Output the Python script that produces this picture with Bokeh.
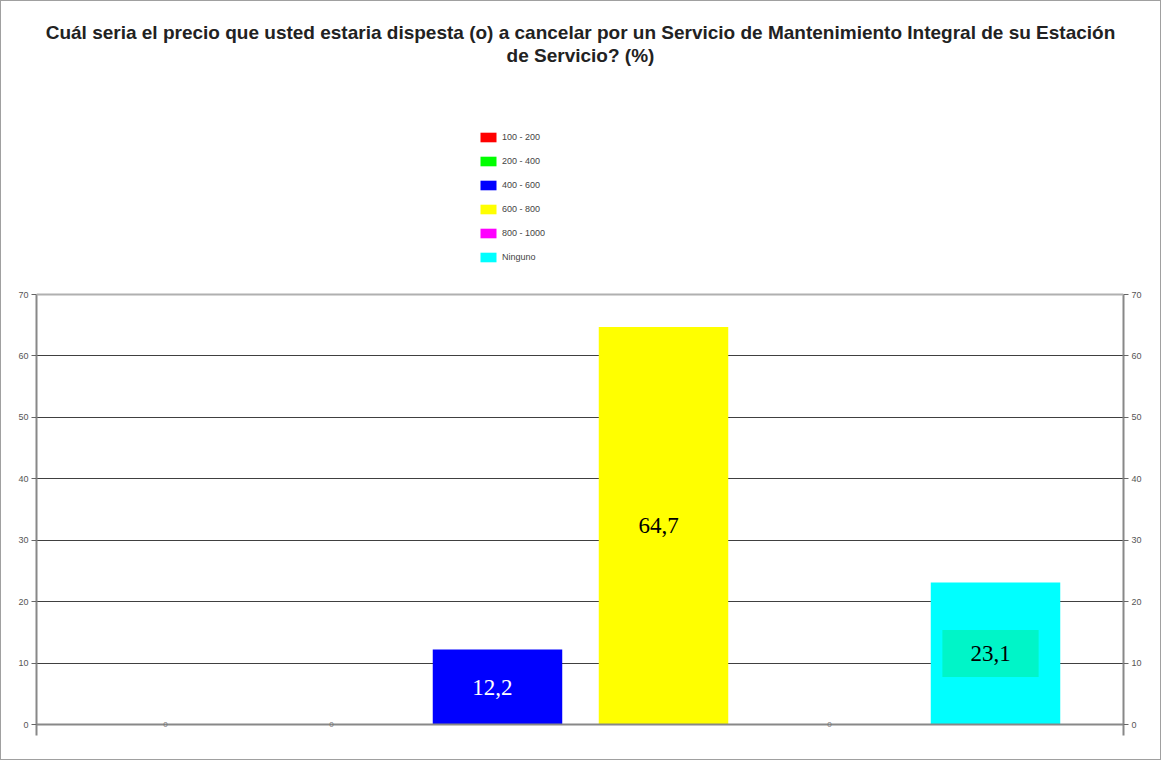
from bokeh.plotting import figure
from bokeh.models import (Range1d, LinearAxis, FixedTicker, Span, Label,
                          ColumnDataSource, Legend, LegendItem)
from bokeh.embed import file_html
from bokeh.resources import INLINE

# ---- data ----
categories = ["100 - 200", "200 - 400", "400 - 600", "600 - 800", "800 - 1000", "Ninguno"]
values = [0, 0, 12.2, 64.7, 0, 23.1]
value_labels = ["0", "0", "12,2", "64,7", "0", "23,1"]
colors = ["#ff0000", "#00ff00", "#0000ff", "#ffff00", "#ff00ff", "#00ffff"]
label_colors = ["#777777", "#777777", "white", "black", "#777777", "black"]
label_boxes = [None, None, None, None, None, "#00f5c8"]
y_ticks = [0, 10, 20, 30, 40, 50, 60, 70]
title_lines = ["Cuál seria el precio que usted estaria dispesta (o) a cancelar por un Servicio de Mantenimiento Integral de su Estación",
               "de Servicio? (%)"]

xs = list(range(len(categories)))
y_start, y_end = -1.79, 117.70

p = figure(width=1161, height=760, output_backend="svg", toolbar_location=None,
           x_range=Range1d(-0.777, 5.771), y_range=Range1d(y_start, y_end),
           min_border_left=35, min_border_right=39, min_border_top=0, min_border_bottom=26,
           background_fill_color="white", border_fill_color="white")
p.styles = {"border": "1px solid #a0a0a0"}
p.outline_line_color = None
p.xaxis.visible = False
p.xgrid.visible = False
p.ygrid[0].ticker = FixedTicker(ticks=y_ticks[1:-1])
p.ygrid[0].grid_line_color = "#404040"
p.ygrid[0].grid_line_width = 1

# axes
p.add_layout(LinearAxis(), "right")
for ax in p.yaxis:
    ax.ticker = FixedTicker(ticks=y_ticks)
    ax.bounds = (y_start, 70)
    ax.axis_line_color = "#888888"
    ax.axis_line_width = 2
    ax.major_tick_line_color = "#666666"
    ax.major_tick_out = 5
    ax.major_tick_in = 0
    ax.minor_tick_line_color = None
    ax.major_label_text_font = "Liberation Sans"
    ax.major_label_text_font_size = "9px"
    ax.major_label_text_color = "#555555"
    ax.major_label_standoff = 3

# reference lines at top and baseline
p.add_layout(Span(location=70, dimension="width", line_color="#b0b0b0", line_width=2))
p.add_layout(Span(location=0, dimension="width", line_color="#888888", line_width=2))

src = ColumnDataSource(dict(x=xs, top=values, color=colors, cat=categories))
r = p.vbar(x="x", top="top", bottom=0, width=0.78, fill_color="color", line_color=None, source=src)

# legend
items = [LegendItem(label=c, renderers=[r], index=i) for i, c in enumerate(categories)]
legend = Legend(items=items, location=(442, 472), orientation="vertical",
                glyph_width=20, glyph_height=12, label_height=12, spacing=12,
                padding=0, margin=0, border_line_color=None, background_fill_alpha=0,
                label_text_font="Liberation Sans", label_text_font_size="9px",
                label_text_color="#444444", label_standoff=4)
p.add_layout(legend)

# value labels
for i in xs:
    if values[i] == 0:
        p.add_layout(Label(x=xs[i], y=0, text=value_labels[i], text_align="center",
                           text_baseline="middle", text_font="Liberation Sans",
                           text_font_size="8px", text_color=label_colors[i]))
    else:
        kw = {}
        if label_boxes[i]:
            kw = dict(background_fill_color=label_boxes[i], padding=(28, 16))
        p.add_layout(Label(x=xs[i], y=values[i] / 2, text=value_labels[i], text_align="center",
                           text_baseline="middle", text_font="Liberation Serif",
                           text_font_size="23px", text_color=label_colors[i],
                           x_offset=-5, **kw))

# title
title_y = [112.65, 108.95]
for line, ty in zip(title_lines, title_y):
    p.add_layout(Label(x=(len(categories) - 1) / 2, y=ty, text=line, text_align="center",
                       text_baseline="middle", text_font="Liberation Sans",
                       text_font_size="19px", text_font_style="bold", text_color="#222222"))

open("out.html", "w").write(file_html(p, INLINE))
